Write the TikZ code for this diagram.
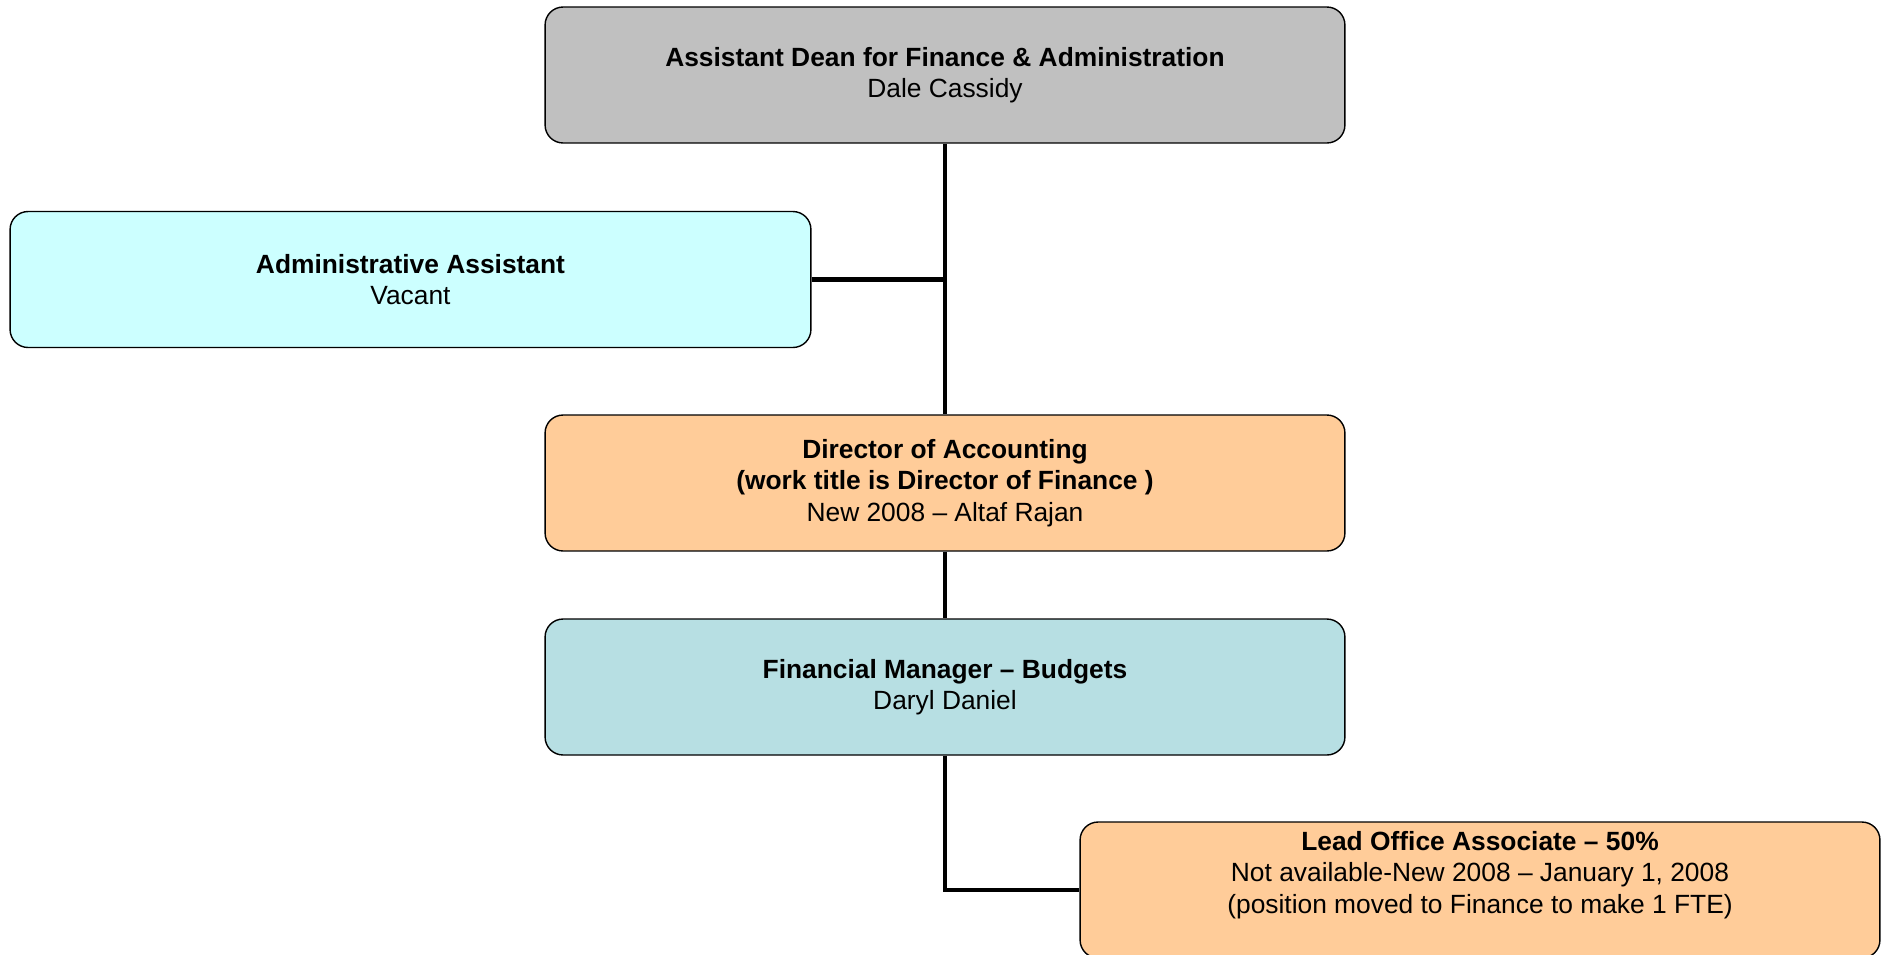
\documentclass[tikz,border=0pt]{standalone}
\usepackage{fontspec}
\setmainfont{Liberation Sans}
\usetikzlibrary{calc}

\definecolor{deangray}{HTML}{C0C0C0}
\definecolor{assistcyan}{HTML}{CCFFFF}
\definecolor{peach}{HTML}{FFCC99}
\definecolor{budgetblue}{HTML}{B7DFE3}

\begin{document}
\begin{tikzpicture} [x=0.02cm,y=-0.02cm,
  box/.style={draw=black,line width=0.8pt,rounded corners=0.36cm,
    minimum width=16cm,minimum height=2.72cm,align=center,
    font=\fontsize{15}{18}\selectfont},
  link/.style={black,line width=2.8pt}]

\useasboundingbox (0,0) rectangle (1885,954);

\coordinate (D) at (945,75);
\coordinate (AA) at (410.5,279.5);
\coordinate (DA) at (945,483);
\coordinate (FM) at (945,687);
\coordinate (LO) at (1480,890);

\node[box,fill=deangray] (dean) at (D) {\textbf{Assistant Dean for Finance \& Administration}\\Dale Cassidy};
\node[box,fill=assistcyan,minimum width=16.02cm] (admin) at (AA) {\textbf{Administrative Assistant}\\Vacant};
\node[box,fill=peach] (dir) at (DA) {\textbf{Director of Accounting}\\\textbf{(work title is Director of Finance )}\\New 2008 -- Altaf Rajan};
\node[box,fill=budgetblue] (fin) at (FM) {\textbf{Financial Manager -- Budgets}\\Daryl Daniel};
\node[box,fill=peach,inner ysep=2pt,text depth=20pt] (lead) at (LO) {\textbf{Lead Office Associate -- 50\%}\\Not available-New 2008 -- January 1, 2008\\(position moved to Finance to make 1 FTE)};

\draw[link] (dean.south)--(dir.north);
\draw[link] (admin.east)--(admin.east -| dean.south);
\draw[link] (dir.south)--(fin.north);
\draw[link] (fin.south) |- (lead.west);

\end{tikzpicture}
\end{document}
